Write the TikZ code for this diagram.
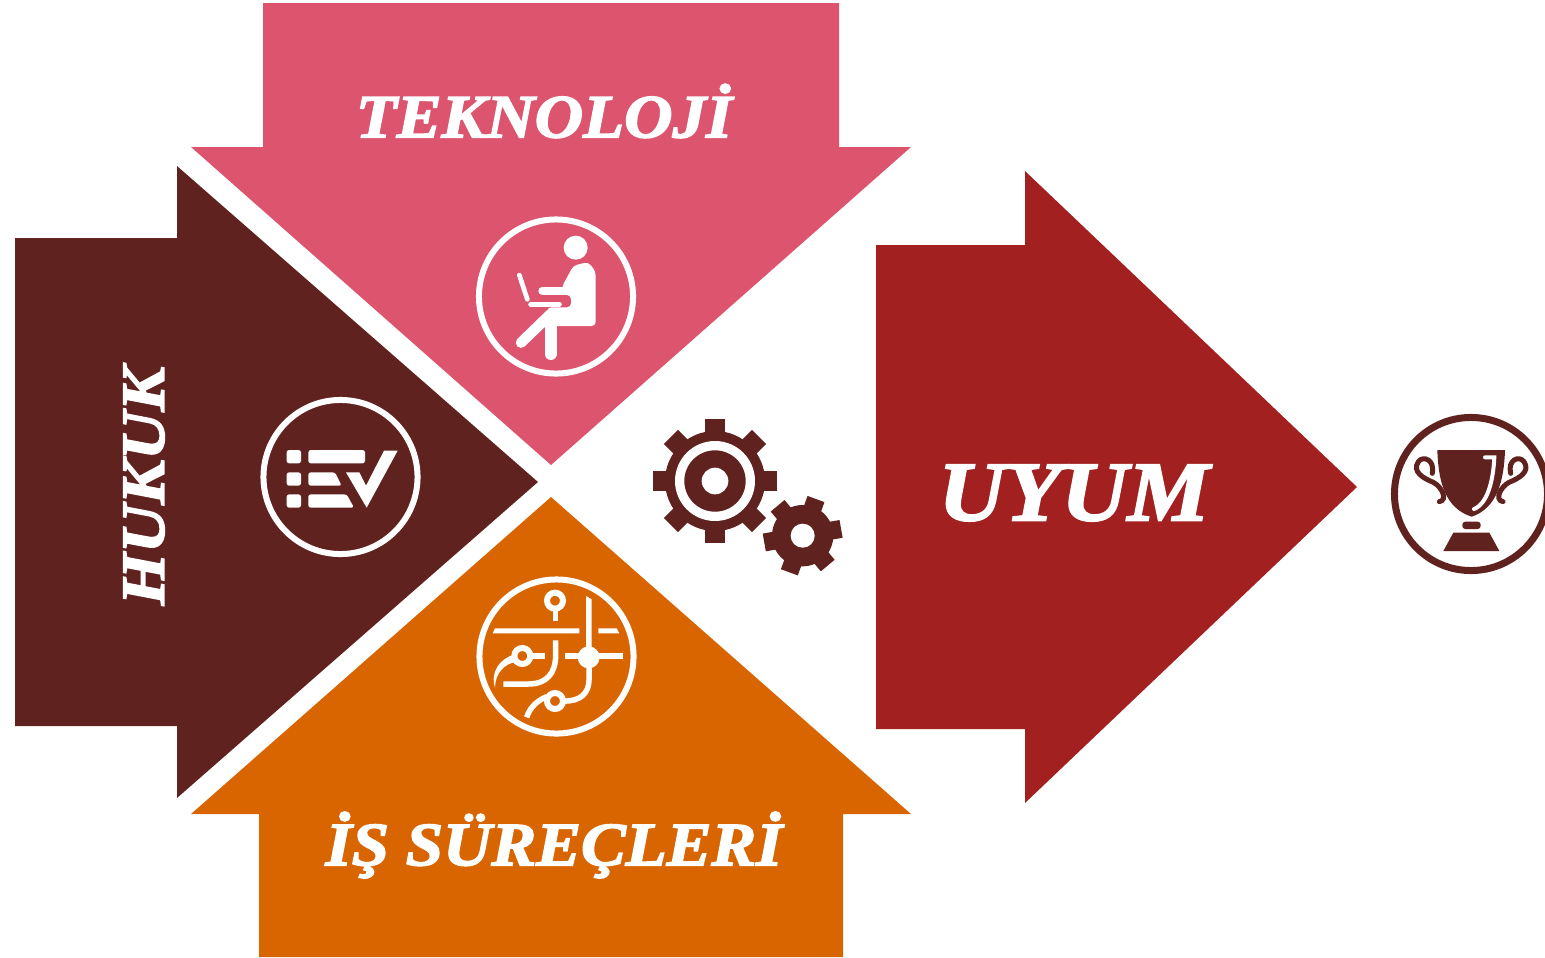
\documentclass[tikz,border=0pt]{standalone}
\usepackage{fontspec}
\newfontfamily\titlefont[FakeStretch=1.09,FakeBold=2.5]{Liberation Serif}
\definecolor{techpink}{HTML}{DC546D}
\definecolor{lawbrown}{HTML}{60221F}
\definecolor{procorange}{HTML}{D96500}
\definecolor{fitred}{HTML}{A22020}
\tikzset{title/.style={text=white, inner sep=0pt, font=\titlefont\bfseries\itshape\fontsize{17.5}{20}\selectfont}}
\tikzset{bigtitle/.style={title, font=\titlefont\bfseries\itshape\fontsize{24}{28}\selectfont}}
\tikzset{badge/.style={draw=white, circle, inner sep=0pt, line width=0.06cm, minimum size=1.54cm}}
\tikzset{icon/.style 2 args={shift={(#1,#2)}, x=0.01cm/3, y=-0.01cm/3}}
\begin{document}
\begin{tikzpicture}[x=0.01cm,y=-0.01cm]
\useasboundingbox (0,0) rectangle (1545,957);
% arrows
\fill[techpink] (263,3) -- (839,3) -- (839,147) -- (911,147) -- (551,465) -- (191,147) -- (263,147) -- cycle;
\fill[lawbrown] (15,238) -- (177,238) -- (177,166) -- (538,482) -- (177,798) -- (177,726) -- (15,726) -- cycle;
\fill[procorange] (259,957) -- (259,814) -- (191,814) -- (551,497) -- (911,814) -- (843,814) -- (843,957) -- cycle;
\fill[fitred] (876,245) -- (1025,245) -- (1025,171) -- (1357,487) -- (1025,803) -- (1025,729) -- (876,729) -- cycle;
% titles
\node[title] (tech) at (544,111) {TEKNOLOJİ};
\node[title] (proc) at (554,845) {İŞ SÜREÇLERİ};
\node[title, rotate=90] (law) at (144,486) {HUKUK};
\node[bigtitle] (fit) at (1074,493) {UYUM};
% badges
\node[badge] (techbadge) at (556,296.5) {};
\node[badge] (lawbadge) at (340.5,477) {};
\node[badge] (procbadge) at (556.5,656.5) {};
\begin{scope}
\clip (0,0) rectangle (1545,957);
\node[badge, draw=lawbrown, line width=0.07cm, minimum size=1.53cm] (fitbadge) at (1471,494) {};
\end{scope}
% person
\begin{scope}[icon={460}{200}, white, line cap=round]
\fill (347,143) circle (36);
\fill[rounded corners=0.04cm] (305,262) -- (340,197) -- (385,186) -- (407,215) -- (407,378) -- (258,378) -- (262,322) -- (333,322) -- (333,285) -- (312,285) -- cycle;
\draw[line width=0.08cm] (247,272) -- (318,272);
\draw[line width=0.105cm] (183,428) -- (272,342);
\draw[line width=0.12cm] (272,375) -- (272,462);
\draw[line width=0.047cm] (178,225) -- (202,298);
\draw[line width=0.05cm] (212,312) -- (298,312);
\end{scope}
% checklist
\begin{scope}[icon={250}{385}, white, rounded corners=0.025cm]
\foreach \y in {195,262,328} \fill (110,\y) rectangle ++(43,40);
\fill (175,195) rectangle (345,235);
\fill (175,262) -- (255,262) -- (275,302) -- (175,302) -- cycle;
\fill (175,328) -- (290,328) -- (312,368) -- (175,368) -- cycle;
\fill[sharp corners] (288,262) -- (328,262) -- (348,302) -- (402,197) -- (443,197) -- (350,368) -- cycle;
\end{scope}
% process map
\begin{scope}[icon={465}{565}, white]
\draw[line width=0.06cm] (270,107) circle (24);
\draw[line width=0.05cm] (270,131) -- (270,168);
\fill (90,190) -- (343,190) -- (343,205) -- (83,205) -- cycle;
\fill (400,190) -- (455,190) -- (463,205) -- (400,205) -- cycle;
\fill (363,93) -- (380,103) -- (380,250) -- (363,250) -- cycle;
\fill (371,277) circle (33);
\draw[line width=0.055cm] (300,273) -- (475,273);
\draw[line width=0.055cm] (372,300) -- (372,345) .. controls (372,385) and (345,410) .. (295,408);
\draw[line width=0.06cm] (270,408) circle (24);
\draw[line width=0.055cm] (245,395) .. controls (220,405) and (195,425) .. (185,457);
\draw[line width=0.06cm] (172,273) circle (24);
\draw[line width=0.055cm] (196,273) -- (240,273);
\fill (150,268) .. controls (105,280) and (75,320) .. (90,368) .. controls (90,325) and (120,295) .. (150,292) -- cycle;
\draw[line width=0.055cm] (272,226) -- (272,270) .. controls (272,325) and (245,357) .. (190,357) -- (115,357);
\end{scope}
% big gear
\begin{scope}[icon={640}{405}]
\foreach \a in {0,45,...,315} \fill[lawbrown, rotate around={\a:(225,228)}] (195,228) rectangle (255,41);
\fill[lawbrown] (225,228) circle (150);
\fill[white] (225,228) circle (120);
\fill[lawbrown] (225,228) circle (92);
\fill[white] (225,228) circle (40);
\end{scope}
% small gear
\begin{scope}[icon={640}{405}]
\foreach \a in {-20,40,...,280} \fill[lawbrown, rotate around={\a:(488,392)}] (461,392) rectangle (515,275);
\fill[lawbrown] (488,392) circle (92);
\fill[white] (488,392) circle (36);
\end{scope}
% trophy
\begin{scope}[icon={1380}{405}]
\fill[lawbrown] (172,135) -- (375,135) .. controls (372,230) and (350,310) .. (275,335) .. controls (195,310) and (175,230) .. (172,135) -- cycle;
\draw[white, line width=0.04cm, line cap=round] (315,157) -- (343,157) .. controls (340,220) and (325,295) .. (282,312);
\draw[lawbrown, line width=0.05cm, line cap=round] (157,205) .. controls (165,165) and (130,150) .. (115,170) .. controls (95,200) and (130,220) .. (160,232) .. controls (185,245) and (205,285) .. (178,290);
\draw[lawbrown, line width=0.05cm, line cap=round] (392,205) .. controls (382,165) and (417,150) .. (432,170) .. controls (452,200) and (417,220) .. (387,232) .. controls (362,245) and (342,285) .. (369,290);
\fill[lawbrown, rounded corners=0.03cm] (247,350) rectangle (302,372);
\fill[lawbrown] (220,383) -- (328,383) -- (358,438) -- (190,438) -- cycle;
\end{scope}
\end{tikzpicture}
\end{document}
